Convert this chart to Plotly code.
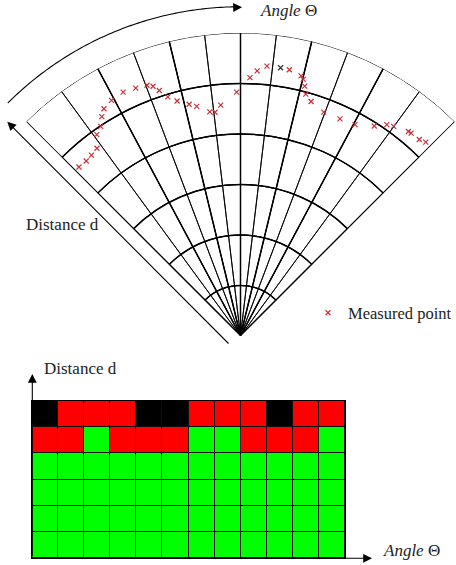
import plotly.graph_objects as go

W, H = 456, 565

# ---------------- data ----------------
# sector boundaries of the fan (degrees)
sector_edges = [45, 53.8, 61.9, 69.3, 76.4, 83.2, 90, 96.8, 103.6, 110.7, 118.1, 126.2, 135]
ring_edges = [0, 1, 2, 3, 4, 5, 6]          # distance rings
thick_edges = [45, 61.9, 76.4, 90, 103.6, 118.1, 135]
angle_arrow_r = 6.52                         # radius of the "Angle" arrow arc

# measured points (distance r, angle theta in degrees)
pt_r = [4.63, 4.62, 4.64, 4.68, 4.90, 4.99, 5.14, 5.25, 5.32, 5.36, 5.33, 5.30, 5.24, 5.12,
        4.95, 4.82, 4.70, 4.63, 4.48, 4.46, 4.59, 4.83, 5.12, 5.26, 5.37, 5.37, 5.36, 5.29,
        5.23, 5.11, 4.96, 4.85, 4.73, 4.73, 4.76, 4.93, 5.09, 5.14, 5.24, 5.25, 5.26, 5.31]
pt_theta = [133.7, 131.4, 129.5, 127.4, 125.5, 123.7, 122.3, 121.0, 118.7, 115.7, 112.9, 110.45,
            109.3, 108.3, 106.9, 105.1, 102.5, 100.8, 97.8, 96.5, 94.9, 90.9, 87.9, 86.4, 84.4,
            81.5, 79.6, 76.9, 76.25, 75.6, 74.9, 73.25, 69.6, 65.4, 61.55, 57.5, 55.3, 53.85,
            50.6, 49.95, 47.7, 46.3]
pt_color = ["#c8323c"] * len(pt_r)
pt_color[25] = "#333333"

# occupancy grid: 0 = black, 1 = red, 2 = green ; rows bottom -> top
grid_rows = [
    [2, 2, 2, 2, 2, 2, 2, 2, 2, 2, 2, 2],
    [2, 2, 2, 2, 2, 2, 2, 2, 2, 2, 2, 2],
    [2, 2, 2, 2, 2, 2, 2, 2, 2, 2, 2, 2],
    [2, 2, 2, 2, 2, 2, 2, 2, 2, 2, 2, 2],
    [1, 1, 2, 1, 1, 1, 2, 2, 1, 1, 1, 2],
    [0, 1, 1, 1, 0, 0, 1, 1, 1, 0, 1, 1],
]

FONT = "Liberation Serif"
FS = 17

def px(x):
    return x / W

def py(y):
    return 1 - y / H

fig = go.Figure()

# ---------- fan cells ----------
cell_theta, cell_width, cell_base, cell_r = [], [], [], []
for j in range(len(ring_edges) - 1):
    for i in range(len(sector_edges) - 1):
        cell_theta.append((sector_edges[i] + sector_edges[i + 1]) / 2)
        cell_width.append(sector_edges[i + 1] - sector_edges[i])
        cell_base.append(ring_edges[j])
        cell_r.append(ring_edges[j + 1] - ring_edges[j])

fig.add_trace(go.Barpolar(
    r=cell_r, base=cell_base, theta=cell_theta, width=cell_width,
    marker=dict(color="rgba(0,0,0,0)", line=dict(color="black", width=0.9)),
    showlegend=False, hoverinfo="skip"))

# thicker inner arcs
inner = ring_edges[1:-1]
fig.add_trace(go.Barpolar(
    r=inner, base=[0] * len(inner), theta=[90] * len(inner), width=[90] * len(inner),
    marker=dict(color="rgba(0,0,0,0)", line=dict(color="black", width=1.5)),
    showlegend=False, hoverinfo="skip"))

# thicker radial lines
rr, tt = [], []
for a in thick_edges:
    rr += [0, ring_edges[-1], None]
    tt += [a, a, None]
fig.add_trace(go.Scatterpolar(r=rr, theta=tt, mode="lines",
                              line=dict(color="black", width=1.5),
                              showlegend=False, hoverinfo="skip"))

# measured points
fig.add_trace(go.Scatterpolar(
    r=pt_r, theta=pt_theta, mode="markers", name="Measured point",
    marker=dict(symbol="x-thin", size=5, color=pt_color,
                line=dict(width=1.2, color=pt_color)),
    showlegend=True, hoverinfo="skip"))

# angle arrow arc (on a second polar subplot with a wider radial range)
arc_theta = [135 - k * 0.5 for k in range(0, 91)]
fig.add_trace(go.Scatterpolar(r=[angle_arrow_r] * len(arc_theta), theta=arc_theta, mode="lines",
                              line=dict(color="black", width=1.1), subplot="polar2",
                              showlegend=False, hoverinfo="skip"))

# ---------- grid heatmap ----------
fig.add_trace(go.Heatmap(
    z=grid_rows, zmin=0, zmax=2,
    colorscale=[[0, "#000000"], [0.5, "#ff0000"], [1, "#00ff00"]],
    showscale=False, xgap=1, ygap=1, hoverinfo="skip"))

apex_x, apex_y, R = 240.5, 336, 303
unit = R / ring_edges[-1]
half = R * 0.70710678
R2 = 6.6 * unit

fig.update_layout(
    width=W, height=H, autosize=False,
    margin=dict(l=0, r=0, t=0, b=0, pad=0, autoexpand=False),
    paper_bgcolor="white", plot_bgcolor="#111111",
    font=dict(family=FONT, size=FS, color="#222222"),
    polar=dict(
        domain=dict(x=[px(apex_x - half), px(apex_x + half)], y=[py(apex_y), py(apex_y - R)]),
        sector=[45, 135], bgcolor="white", bargap=0, barmode="overlay",
        radialaxis=dict(range=[0, ring_edges[-1]], visible=False, showgrid=False),
        angularaxis=dict(visible=False, showgrid=False),
    ),
    polar2=dict(
        domain=dict(x=[px(apex_x - R2 * 0.70710678), px(apex_x)], y=[py(apex_y), py(apex_y - R2)]),
        sector=[90, 135], bgcolor="rgba(0,0,0,0)",
        radialaxis=dict(range=[0, 6.6], visible=False, showgrid=False),
        angularaxis=dict(visible=False, showgrid=False),
    ),
    xaxis=dict(domain=[px(32), px(345)], range=[-0.5, 11.5], showticklabels=False,
               showgrid=False, zeroline=False, showline=True, mirror=True,
               linecolor="black", linewidth=1, ticks=""),
    yaxis=dict(domain=[py(558), py(401)], range=[-0.5, 5.5], showticklabels=False,
               showgrid=False, zeroline=False, showline=True, mirror=True,
               linecolor="black", linewidth=1, ticks=""),
    legend=dict(x=px(308), y=py(313), xanchor="left", yanchor="middle",
                bgcolor="rgba(0,0,0,0)", font=dict(family=FONT, size=16.5, color="#222222"),
                itemwidth=30),
    showlegend=True,
)

ann = []
# text labels
ann.append(dict(x=px(258), y=py(10), xref="paper", yref="paper", xanchor="left", yanchor="middle",
                text="<i>Angle</i> Θ", showarrow=False))
ann.append(dict(x=px(24), y=py(225), xref="paper", yref="paper", xanchor="left", yanchor="middle",
                text="Distance d", showarrow=False))
ann.append(dict(x=px(42), y=py(368), xref="paper", yref="paper", xanchor="left", yanchor="middle",
                text="Distance d", showarrow=False))
ann.append(dict(x=px(381), y=py(550), xref="paper", yref="paper", xanchor="left", yanchor="middle",
                text="<i>Angle</i> Θ", showarrow=False))
# arrows
arrow = dict(xref="paper", yref="paper", text="", showarrow=True, arrowhead=2,
             arrowsize=1.6, arrowwidth=1.1, arrowcolor="black", standoff=0, startstandoff=0)
ann.append(dict(arrow, x=px(7.3), y=py(121.7), ax=222.7, ay=223.3))      # distance arrow (fan)
ann.append(dict(arrow, x=px(242), y=py(7.3), ax=-9, ay=0.2))             # angle arc head
ann.append(dict(arrow, x=px(32.3), y=py(374), ax=0, ay=184))             # grid y axis
ann.append(dict(arrow, x=px(372), y=py(558.3), ax=-340, ay=0))           # grid x axis
fig.update_layout(annotations=ann)

fig.write_html(
    "out.html",
    config={"responsive": False, "displayModeBar": False},
    post_script=("document.documentElement.style.overflow='hidden';"
                 "document.body.style.overflow='hidden';"
                 "document.body.style.margin='0px';"),
)
